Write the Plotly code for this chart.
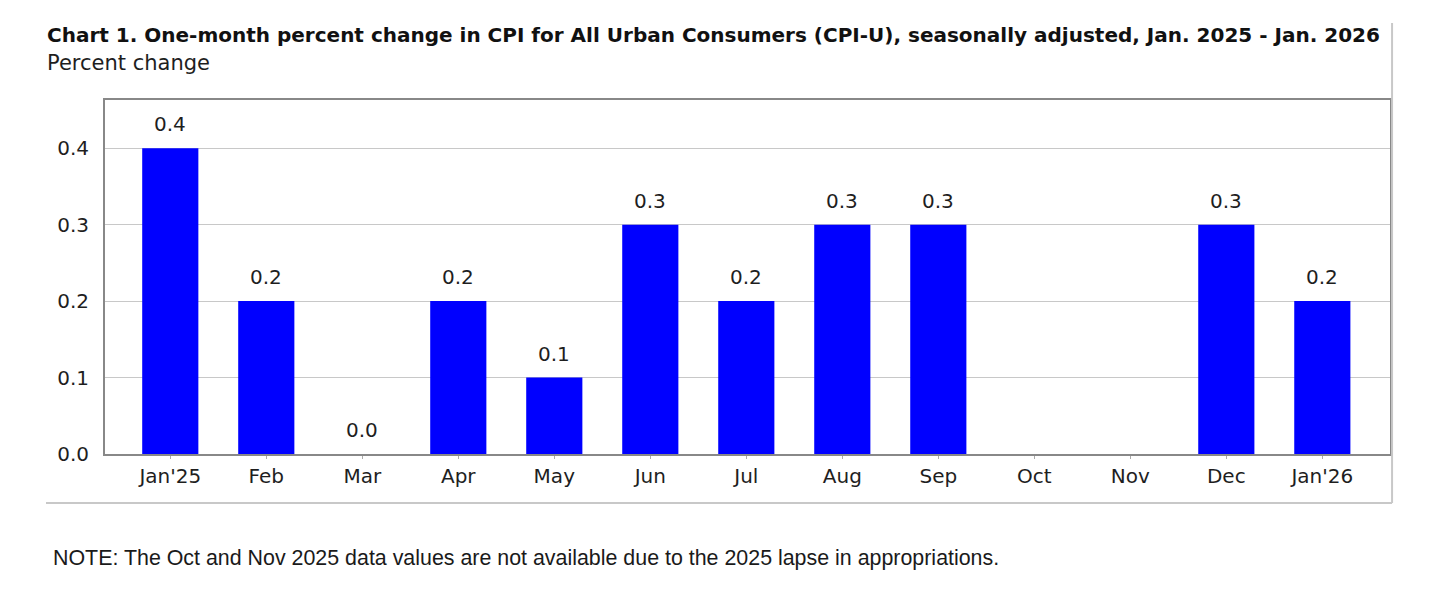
import plotly.graph_objects as go

categories = ["Jan'25", "Feb", "Mar", "Apr", "May", "Jun", "Jul", "Aug", "Sep", "Oct", "Nov", "Dec", "Jan'26"]
values = [0.4, 0.2, 0.0, 0.2, 0.1, 0.3, 0.2, 0.3, 0.3, None, None, 0.3, 0.2]
y_ticks = [0.0, 0.1, 0.2, 0.3, 0.4]
y_tick_labels = ["0.0", "0.1", "0.2", "0.3", "0.4"]

title = "Chart 1. One-month percent change in CPI for All Urban Consumers (CPI-U), seasonally adjusted, Jan. 2025 - Jan. 2026"
subtitle = "Percent change"
note = "NOTE: The Oct and Nov 2025 data values are not available due to the 2025 lapse in appropriations."

FONT = "DejaVu Sans"
TXT = "#1e1e1e"

fig = go.Figure()
fig.add_trace(go.Bar(
    x=categories, y=values,
    marker=dict(color="#0000ff", line=dict(width=0)),
    width=0.585,
    hoverinfo="x+y",
))

for c, v in zip(categories, values):
    if v is None:
        continue
    fig.add_annotation(x=c, y=v, text=f"{v:.1f}", showarrow=False,
                       yanchor="bottom", yshift=10,
                       font=dict(family=FONT, size=20, color=TXT))

# title, subtitle, note
fig.add_annotation(xref="paper", yref="paper", x=-0.0468, y=1.1836, xanchor="left", yanchor="middle",
                   text=f"<b>{title}</b>", showarrow=False,
                   font=dict(family=FONT, size=20.0, color="#111111"))
fig.add_annotation(xref="paper", yref="paper", x=-0.0465, y=1.1045, xanchor="left", yanchor="middle",
                   text=subtitle, showarrow=False,
                   font=dict(family=FONT, size=21, color=TXT))
fig.add_annotation(xref="paper", yref="paper", x=-0.0420, y=-0.2938, xanchor="left", yanchor="middle",
                   text=note, showarrow=False,
                   font=dict(family="Liberation Sans", size=21.4, color="#1a1a1a"))

# outer frame lines
fig.add_shape(type="line", xref="paper", yref="paper", x0=1.0016, x1=1.0016, y0=1.2175, y1=-0.1384,
              line=dict(color="#c8c8c8", width=2))
fig.add_shape(type="line", xref="paper", yref="paper", x0=-0.0459, x1=1.0016, y0=-0.1384, y1=-0.1384,
              line=dict(color="#c8c8c8", width=2))

fig.update_layout(
    width=1427, height=587,
    margin=dict(l=97, r=45, t=92, b=141, autoexpand=False),
    paper_bgcolor="white", plot_bgcolor="white",
    showlegend=False,
    font=dict(family=FONT, size=20, color=TXT),
)
fig.update_xaxes(
    type="category", range=[-0.68, 12.705],
    showline=True, linecolor="#888888", linewidth=2, mirror=True,
    ticks="outside", ticklen=3, tickcolor="#aaaaaa", tickwidth=1,
    showgrid=False, tickfont=dict(family=FONT, size=20, color=TXT),
    fixedrange=True,
)
fig.update_yaxes(
    range=[0, 0.463], tickvals=y_ticks, ticktext=y_tick_labels,
    showline=True, linecolor="#888888", linewidth=2, mirror=True,
    showgrid=True, gridcolor="#c8c8c8", gridwidth=1,
    ticks="", ticklabelstandoff=10, zeroline=False,
    tickfont=dict(family=FONT, size=20, color=TXT),
    fixedrange=True,
)

fig.write_html("out.html")
